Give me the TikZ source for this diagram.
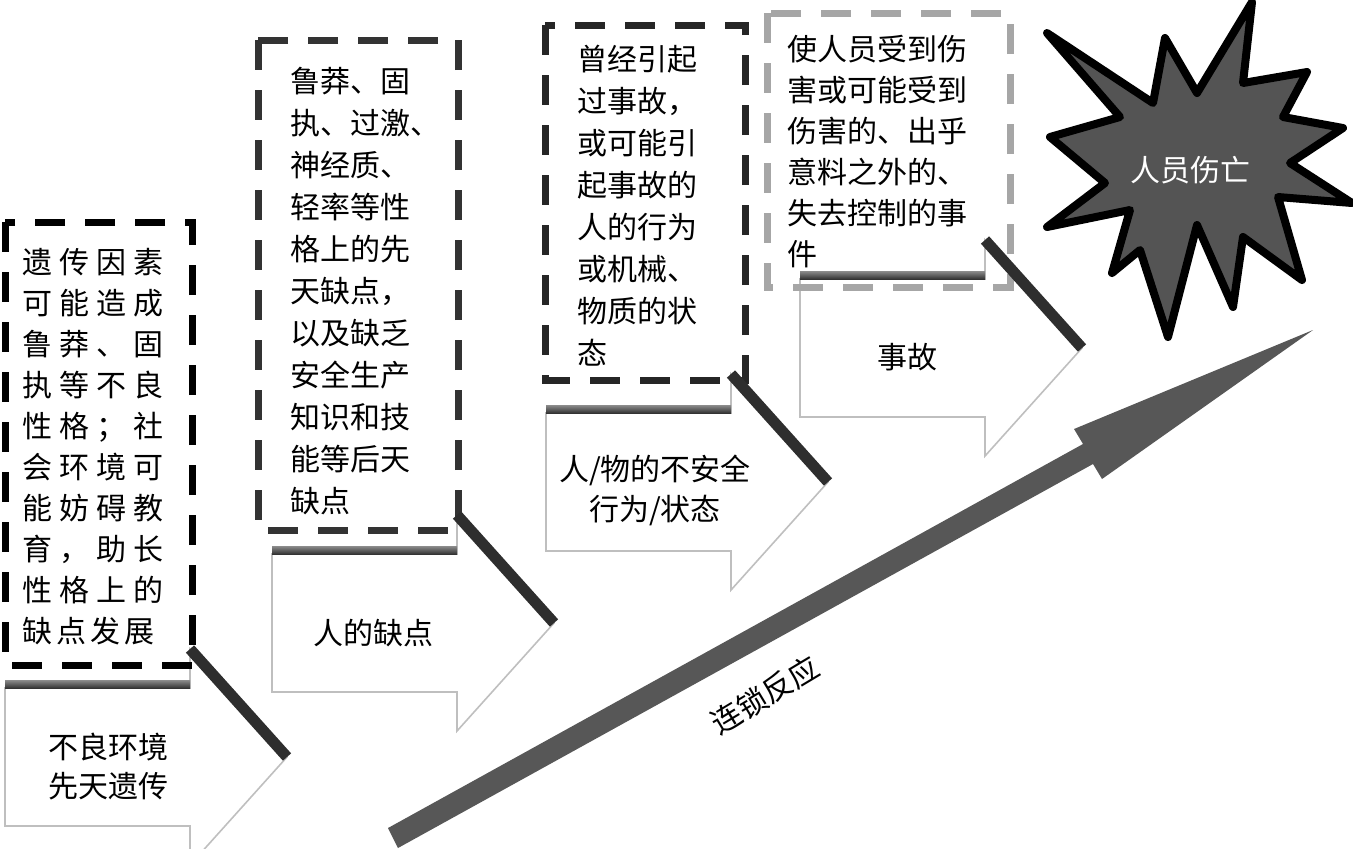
\documentclass[tikz,border=0pt]{standalone}
\usepackage{fontspec}
\newfontfamily\cjk{Noto Sans CJK SC}
\newcommand\gp{\kern3.5pt}
\newcommand\blockarrow[2]{%
  \begin{scope}[shift={#2}]
    \draw[aoutline] (0,-69) -- (185,-69) -- (185,-108) -- (282,0) -- (185,108) -- (185,69) -- (0,69) -- cycle;
    \shade[top color=black!45, bottom color=black!80] (0,-77) rectangle (185,-69);
    \coordinate (#1-top) at (185,-108);
    \coordinate (#1-tip) at (282,0);
  \end{scope}}
\begin{document}
\begin{tikzpicture}[x=0.5pt,y=-0.5pt,
  txt/.style={font={\cjk\fontsize{15}{20.75}\selectfont}, inner sep=0pt, align=left, anchor=north west},
  ctxt/.style={font={\cjk\fontsize{15}{19.5}\selectfont}, inner sep=0pt, align=center},
  dbox/.style={line width=3.5pt, dash pattern=on 15pt off 10pt},
  aoutline/.style={draw=black!25, line width=0.8pt, fill=white},
  ashadow/.style={draw=black!82, line width=5.5pt},
  bigarrow/.style={fill=black!66, draw=none},
  star/.style={fill=black!67, draw=black, line width=4pt, line join=round}]
\useasboundingbox (0,0) rectangle (1353,848);
\clip (0,0) rectangle (1353,848);

% block arrows
\blockarrow{a1}{(5,757)}
\blockarrow{a2}{(272,623)}
\blockarrow{a3}{(546,482)}
\blockarrow{a4}{(800,348)}

% dashed boxes
\draw[dbox, draw=black] (5,222) rectangle (192,665);
\draw[dbox, draw=black!80] (258,40) rectangle (458,530);
\draw[dbox, draw=black!85] (545,25) rectangle (745,380);
\draw[dbox, draw=black!35] (767,13) rectangle (1010,287);

% dark edges of arrow heads
\foreach \a in {a1,a2,a3,a4} \draw[ashadow] (\a-top) -- (\a-tip);

% arrow texts
\node[ctxt] (t1) at (108,767) {不良环境\\先天遗传};
\node[ctxt] (t2) at (373,633) {人的缺点};
\node[ctxt, font={\cjk\fontsize{15}{20}\selectfont}] (t3) at (655,490) {人/物的不安全\\行为/状态};
\node[ctxt] (t4) at (907,357) {事故};

% box texts
\node[txt, font={\cjk\fontsize{15}{20.5}\selectfont}] (b1) at (22,248) {遗\gp 传\gp 因\gp 素\\可\gp 能\gp 造\gp 成\\鲁\gp 莽\gp 、\gp 固\\执\gp 等\gp 不\gp 良\\性\gp 格\gp ；\gp 社\\会\gp 环\gp 境\gp 可\\能\gp 妨\gp 碍\gp 教\\育\gp ，\gp 助\gp 长\\性\gp 格\gp 上\gp 的\\缺\kern2pt 点\kern2pt 发\kern2pt 展};
\node[txt, font={\cjk\fontsize{15}{21}\selectfont}] (b2) at (290,67) {鲁莽、固\\执、过激、\\神经质、\\轻率等性\\格上的先\\天缺点，\\以及缺乏\\安全生产\\知识和技\\能等后天\\缺点};
\node[txt, font={\cjk\fontsize{15}{21}\selectfont}] (b3) at (577,45) {曾经引起\\过事故，\\或可能引\\起事故的\\人的行为\\或机械、\\物质的状\\态};
\node[txt, font={\cjk\fontsize{15}{20.5}\selectfont}] (b4) at (787,35) {使人员受到伤\\害或可能受到\\伤害的、出乎\\意料之外的、\\失去控制的事\\件};

% starburst
\draw[star] (1047,33) -- (1153,103) -- (1165,38) -- (1197,93) -- (1252,2) -- (1243,83) -- (1307,72) -- (1283,117) -- (1343,128) -- (1290,163) -- (1352,203) -- (1278,197) -- (1302,280) -- (1243,237) -- (1233,307) -- (1197,225) -- (1168,337) -- (1140,250) -- (1112,273) -- (1130,210) -- (1047,227) -- (1105,183) -- (1050,137) -- (1120,117) -- cycle;
\node[ctxt, text=white] (death) at (1190,170) {人员伤亡};

% chain reaction arrow
\fill[bigarrow] (388,828) -- (1083,444) -- (1074,429) -- (1313,330) -- (1102,479) -- (1093,464) -- (398,848) -- cycle;
\node[ctxt, rotate=31] (chain) at (765,695) {连锁反应};
\end{tikzpicture}
\end{document}
